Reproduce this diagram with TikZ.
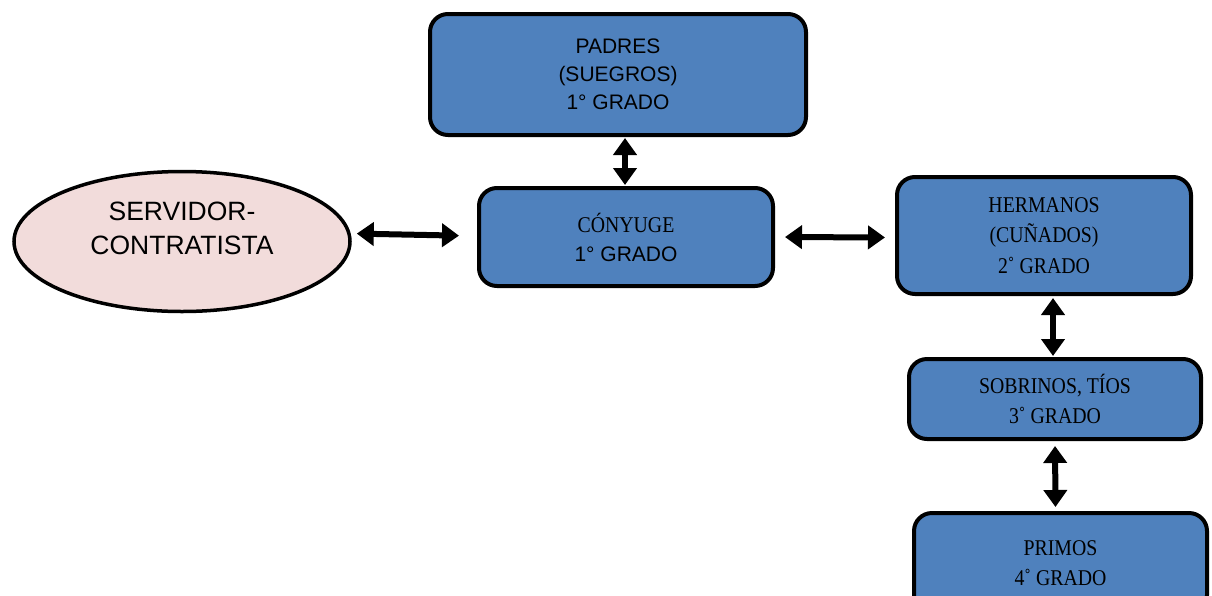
\documentclass[tikz,border=0pt]{standalone}
\usepackage{fontspec}
\setmainfont{Liberation Sans}
\newfontfamily\serifc[FakeStretch=0.88]{Liberation Serif}
\usetikzlibrary{arrows.meta,shapes.geometric,calc}
\definecolor{boxblue}{RGB}{79,129,189}
\definecolor{pinkfill}{RGB}{242,220,219}
\tikzset{
  x=1pt,y=-1pt,
  bluebox/.style={draw=black,line width=4pt,fill=boxblue,rounded corners=18pt,align=center,inner sep=0pt},
  ovalbox/.style={ellipse,draw=black,line width=3.5pt,fill=pinkfill,inner sep=0pt},
  dbl/.style={line width=6pt,{Triangle[length=17pt,width=23pt]}-{Triangle[length=17pt,width=23pt]}},
  sanst/.style={font=\fontsize{21}{28}\selectfont},
  serift/.style={font=\serifc\fontsize{22.5}{30.5}\selectfont}
}
\begin{document}
\begin{tikzpicture}
\useasboundingbox (0,0) rectangle (1212,595);
\clip (0,0) rectangle (1212,595);
\node[bluebox,minimum width=376pt,minimum height=121pt,sanst] (padres) at (618,74.5)
  {PADRES\\(SUEGROS)\\1° GRADO};
\node[bluebox,minimum width=294pt,minimum height=98pt,font=\fontsize{21}{29}\selectfont,yshift=0pt] (cony) at (626,237)
  {{\serifc\fontsize{22.5}{29}\selectfont CÓNYUGE}\\1° GRADO};
\node[ovalbox,minimum width=336pt,minimum height=140pt,
  label={[align=center,font=\fontsize{26.5}{34}\selectfont,yshift=13pt]center:{SERVIDOR-\\CONTRATISTA}}] (serv) at (182,241.5) {};
\node[bluebox,minimum width=294pt,minimum height=117pt,serift] (herm) at (1044,235.5)
  {HERMANOS\\(CUÑADOS)\\2˚ GRADO};
\node[bluebox,minimum width=292pt,minimum height=80pt,serift] (sobr) at (1055,399)
  {SOBRINOS, TÍOS\\3˚ GRADO};
\node[bluebox,minimum width=293pt,minimum height=100pt,serift] (primos) at (1060.5,563)
  {PRIMOS\\4˚ GRADO};
\draw[dbl,shorten <=5pt,shorten >=18pt] ($(serv.east)+(0,-8)$) -- ($(cony.west)+(0,-1)$);
\draw[dbl,shorten <=10pt,shorten >=10pt] (cony.east) -- ($(herm.west)+(0,2)$);
\draw[dbl] ($(padres.south)+(7,1)$) -- ($(cony.north)+(-1,-1)$);
\draw[dbl,shorten <=1pt] ($(herm.south)+(9,1)$) -- ($(sobr.north)+(-2,-1)$);
\draw[dbl,shorten <=5pt,shorten >=4pt] (sobr.south) -- ($(primos.north)+(-5,0)$);
\end{tikzpicture}
\end{document}
